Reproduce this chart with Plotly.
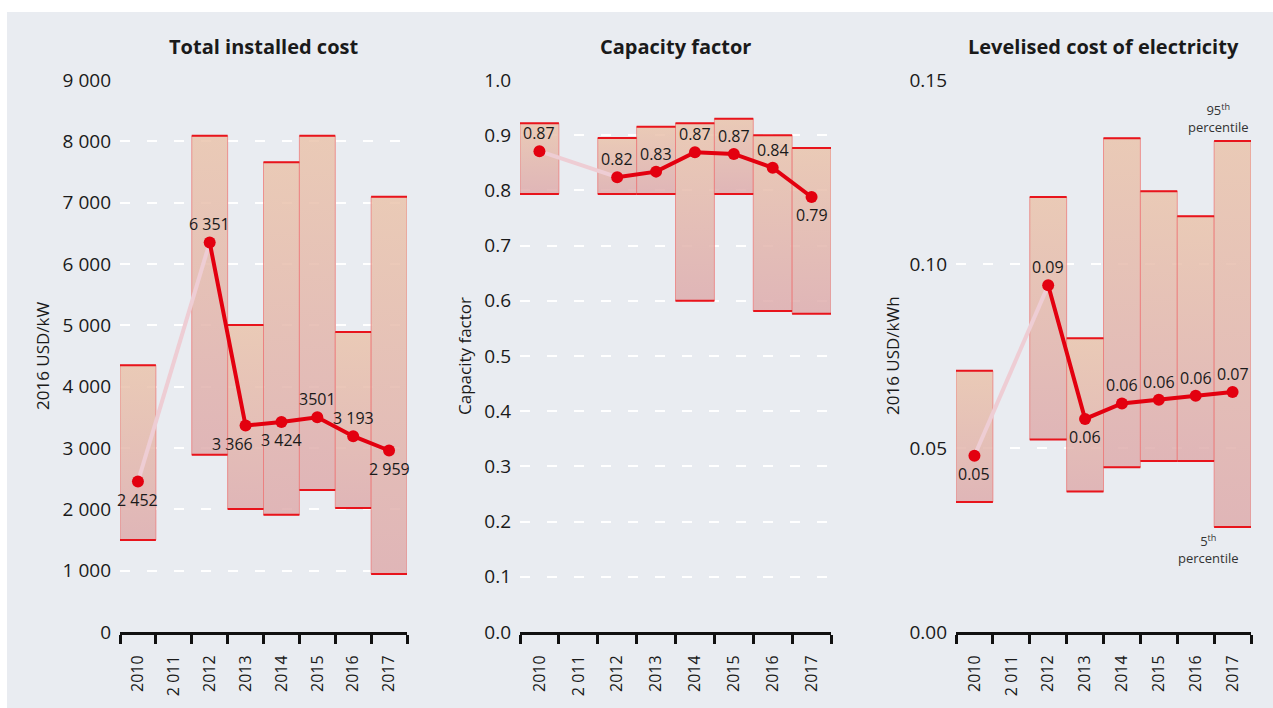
import plotly.graph_objects as go

# ---------------- data ----------------
years = [2010, 2011, 2012, 2013, 2014, 2015, 2016, 2017]
year_labels = ["2010", "2 011", "2012", "2013", "2014", "2015", "2016", "2017"]

cost_p5 = [1500, None, 2890, 2005, 1910, 2315, 2020, 946]
cost_p95 = [4350, None, 8090, 5005, 7660, 8090, 4890, 7095]
cost_avg = [2452, None, 6351, 3366, 3424, 3501, 3193, 2959]
cost_labels = ["2 452", None, "6 351", "3 366", "3 424", "3501", "3 193", "2 959"]
cost_pos = ["below", None, "above", "below-left", "below", "above", "above", "below"]

cf_p5 = [0.7935, None, 0.7935, 0.7935, 0.600, 0.7935, 0.5815, 0.5767]
cf_p95 = [0.9215, None, 0.895, 0.9155, 0.9215, 0.930, 0.8997, 0.877]
cf_avg = [0.871, None, 0.824, 0.834, 0.869, 0.866, 0.841, 0.788]
cf_labels = ["0.87", None, "0.82", "0.83", "0.87", "0.87", "0.84", "0.79"]
cf_pos = ["above", None, "above", "above", "above", "above", "above", "below"]

lcoe_p5 = [0.0353, None, 0.0523, 0.0382, 0.0448, 0.0465, 0.0465, 0.0285]
lcoe_p95 = [0.0710, None, 0.1182, 0.0798, 0.1342, 0.1198, 0.1130, 0.1334]
lcoe_avg = [0.0479, None, 0.0942, 0.0579, 0.0621, 0.0631, 0.0642, 0.0652]
lcoe_labels = ["0.05", None, "0.09", "0.06", "0.06", "0.06", "0.06", "0.07"]
lcoe_pos = ["below", None, "above", "below", "above", "above", "above", "above"]

titles = ["Total installed cost", "Capacity factor", "Levelised cost of electricity"]
y_titles = ["2016 USD/kW", "Capacity factor", "2016 USD/kWh"]

cost_ticks = [0, 1000, 2000, 3000, 4000, 5000, 6000, 7000, 8000, 9000]
cost_ticktext = ["0", "1 000", "2 000", "3 000", "4 000", "5 000", "6 000", "7 000", "8 000", "9 000"]
cf_ticks = [0.0, 0.1, 0.2, 0.3, 0.4, 0.5, 0.6, 0.7, 0.8, 0.9, 1.0]
cf_ticktext = ["0.0", "0.1", "0.2", "0.3", "0.4", "0.5", "0.6", "0.7", "0.8", "0.9", "1.0"]
lcoe_ticks = [0.0, 0.05, 0.10, 0.15]
lcoe_ticktext = ["0.00", "0.05", "0.10", "0.15"]

# ---------------- styles ----------------
RED = "#e3000f"
FADED = "#eecdd4"
BG = "#e9ecf1"
TXT = "#1a1a1a"
FONT = "Open Sans"
bar_scale = [[0, "rgba(222,172,173,0.85)"], [1, "rgba(234,196,172,0.85)"]]
# label offsets in px (xshift, yshift)
label_offsets = {"above": (0, 18), "below": (0, -18), "below-left": (-13, -18)}

W, H = 1273, 708
x_domains = [[120 / W, 407 / W], [520 / W, 831 / W], [956 / W, 1251 / W]]
y_domain = [1 - 632 / H, 1 - 80 / H]
y_title_x = [43 / W, 465 / W, 893 / W]

panels = [
    dict(p5=cost_p5, p95=cost_p95, avg=cost_avg, labels=cost_labels, pos=cost_pos,
         rng=[0, 9000], ticks=cost_ticks, ticktext=cost_ticktext),
    dict(p5=cf_p5, p95=cf_p95, avg=cf_avg, labels=cf_labels, pos=cf_pos,
         rng=[0, 1.0], ticks=cf_ticks, ticktext=cf_ticktext),
    dict(p5=lcoe_p5, p95=lcoe_p95, avg=lcoe_avg, labels=lcoe_labels, pos=lcoe_pos,
         rng=[0, 0.15], ticks=lcoe_ticks, ticktext=lcoe_ticktext),
]

fig = go.Figure()
bounds = [y - 0.5 for y in years] + [years[-1] + 0.5]

for i, p in enumerate(panels):
    sfx = "" if i == 0 else str(i + 1)
    xa, ya = "x" + sfx, "y" + sfx

    # percentile range boxes (gradient fill)
    edge_x, edge_y = [], []
    for yr, lo, hi in zip(years, p["p5"], p["p95"]):
        if lo is None:
            continue
        fig.add_trace(go.Scatter(
            x=[yr - 0.5, yr + 0.5, yr + 0.5, yr - 0.5, yr - 0.5],
            y=[lo, lo, hi, hi, lo],
            mode="lines", fill="toself",
            fillgradient=dict(type="vertical", colorscale=bar_scale),
            line=dict(color="rgba(236,120,120,0.75)", width=1),
            hoverinfo="skip", xaxis=xa, yaxis=ya))
        edge_x += [yr - 0.5, yr + 0.5, None, yr - 0.5, yr + 0.5, None]
        edge_y += [lo, lo, None, hi, hi, None]
    fig.add_trace(go.Scatter(x=edge_x, y=edge_y, mode="lines",
                             line=dict(color="#e8141c", width=2),
                             hoverinfo="skip", xaxis=xa, yaxis=ya))

    # faded connector across the missing year
    known = [(yr, v) for yr, v in zip(years, p["avg"]) if v is not None]
    fig.add_trace(go.Scatter(x=[known[0][0], known[1][0]], y=[known[0][1], known[1][1]],
                             mode="lines", line=dict(color=FADED, width=4),
                             hoverinfo="skip", xaxis=xa, yaxis=ya))
    # main average line
    fig.add_trace(go.Scatter(
        x=years, y=p["avg"], mode="lines+markers",
        line=dict(color=RED, width=4), marker=dict(color=RED, size=12),
        connectgaps=False, xaxis=xa, yaxis=ya))
    # value labels
    for yr, v, lab, pos in zip(years, p["avg"], p["labels"], p["pos"]):
        if lab is None:
            continue
        dx, dy = label_offsets[pos]
        fig.add_annotation(x=yr, y=v, xref=xa, yref=ya, text=lab, showarrow=False,
                           xanchor="center", yanchor="middle", xshift=dx, yshift=dy,
                           font=dict(family=FONT, size=16, color=TXT))

    fig.update_layout({
        "xaxis" + sfx: dict(
            domain=x_domains[i], anchor=ya, range=[2009.5, 2017.5], automargin=False,
            tickmode="array", tickvals=years, ticktext=year_labels, ticks="",
            tickangle=-90, tickfont=dict(family=FONT, size=16, color=TXT),
            ticklabelstandoff=14,
            showline=True, linecolor="#111", linewidth=3,
            showgrid=False, zeroline=False,
            minor=dict(tickmode="array", tickvals=bounds, ticks="outside",
                       ticklen=9, tickwidth=3, tickcolor="#111", showgrid=False),
        ),
        "yaxis" + sfx: dict(
            domain=y_domain, anchor=xa, range=p["rng"], automargin=False,
            tickmode="array", tickvals=p["ticks"], ticktext=p["ticktext"],
            ticks="", tickfont=dict(family=FONT, size=19, color=TXT),
            ticklabelstandoff=8,
            showgrid=True, gridcolor="white", gridwidth=2, griddash="10px,17px",
            zeroline=False, showline=False,
        ),
    })
    fig.add_annotation(x=sum(x_domains[i]) / 2, y=1 - 46 / H, xref="paper", yref="paper",
                       xanchor="center", yanchor="middle",
                       text="<b>" + titles[i] + "</b>", showarrow=False,
                       font=dict(family=FONT, size=20, color=TXT))
    fig.add_annotation(x=y_title_x[i], y=sum(y_domain) / 2, xref="paper", yref="paper",
                       xanchor="center", yanchor="middle", textangle=-90,
                       text=y_titles[i], showarrow=False,
                       font=dict(family=FONT, size=17, color=TXT))

# percentile notes
fig.add_annotation(x=years[-1], y=lcoe_p95[-1], xref="x3", yref="y3",
                   text="95<sup>th</sup><br>percentile", showarrow=False,
                   xanchor="center", yanchor="bottom", xshift=-14, yshift=3,
                   font=dict(family=FONT, size=13, color="#333"))
fig.add_annotation(x=years[-1], y=lcoe_p5[-1], xref="x3", yref="y3",
                   text="5<sup>th</sup><br>percentile", showarrow=False,
                   xanchor="center", yanchor="top", xshift=-24, yshift=-2,
                   font=dict(family=FONT, size=13, color="#333"))

# white page margins around the grey panel
fig.add_shape(type="rect", xref="paper", yref="paper", x0=0, x1=1, y0=1 - 12 / H, y1=1,
              fillcolor="white", line_width=0, layer="below")
fig.add_shape(type="rect", xref="paper", yref="paper", x0=0, x1=7 / W, y0=0, y1=1,
              fillcolor="white", line_width=0, layer="below")

fig.update_layout(width=W, height=H, margin=dict(l=0, r=0, t=0, b=0, autoexpand=False),
                  paper_bgcolor=BG, plot_bgcolor="rgba(0,0,0,0)", showlegend=False,
                  font=dict(family=FONT, color=TXT))

fig.write_html("out.html", config={"displayModeBar": False},
               post_script="document.body.style.margin='0';")
